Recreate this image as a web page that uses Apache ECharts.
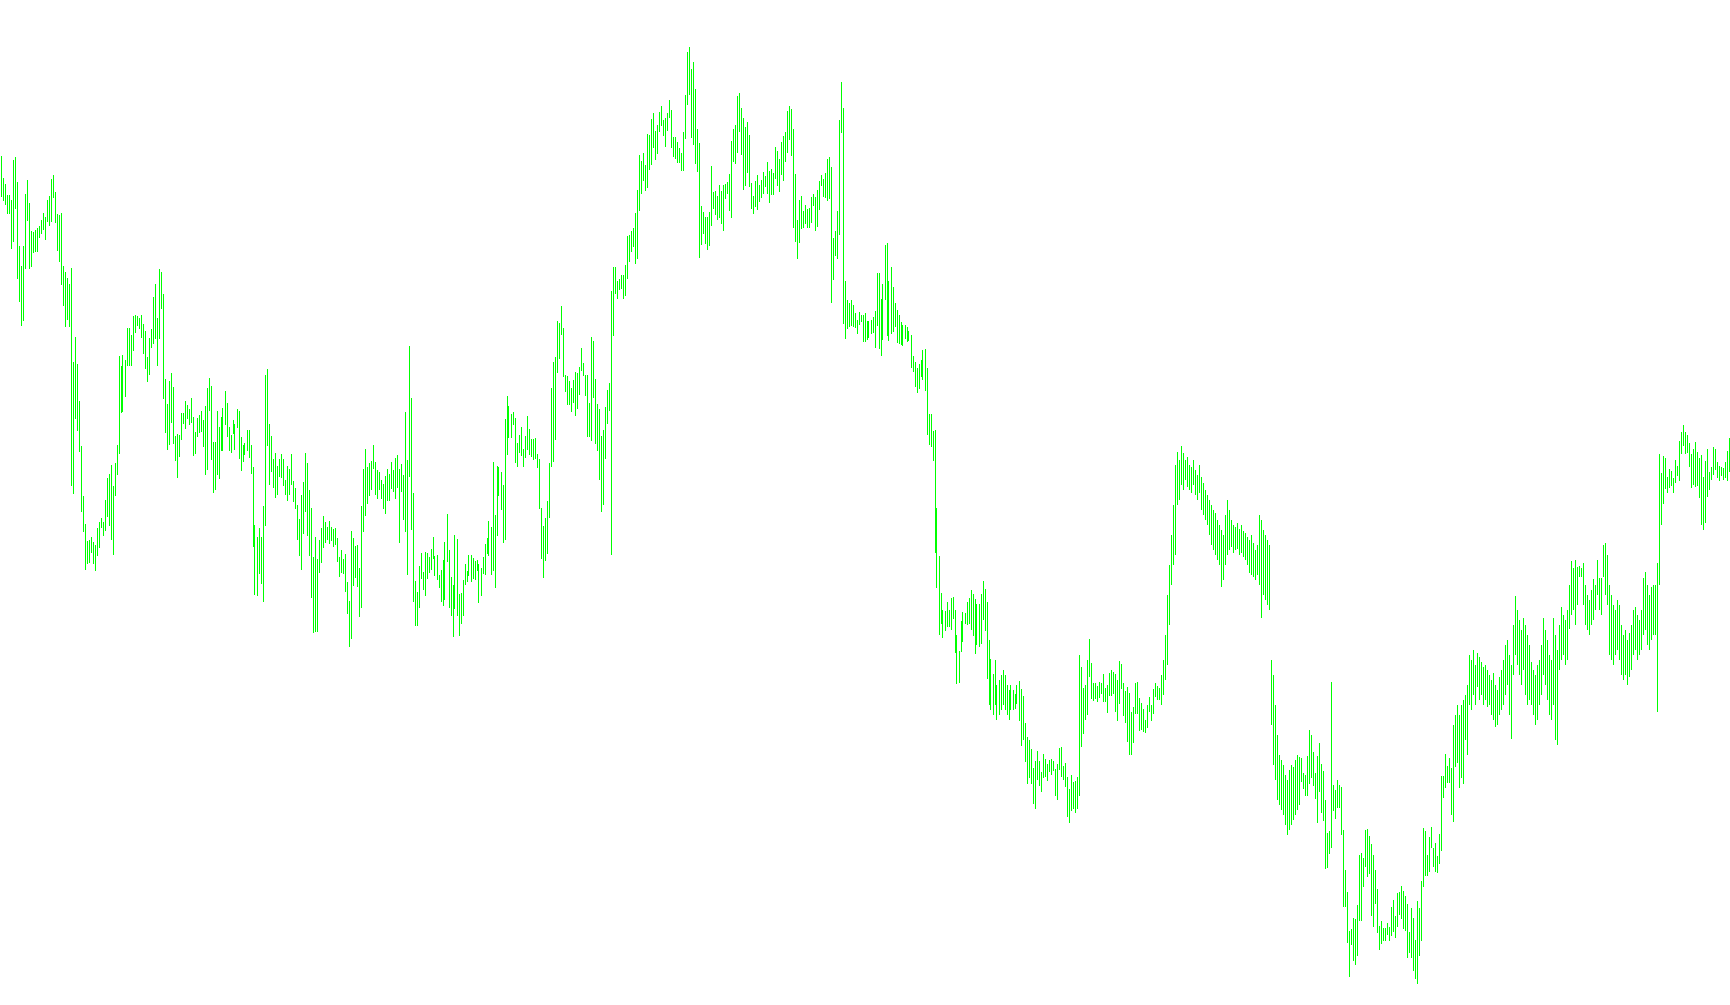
<!DOCTYPE html>
<html><head><meta charset="utf-8">
<script src="https://cdn.jsdelivr.net/npm/echarts/dist/echarts.min.js"></script>
<style>html,body{margin:0;padding:0;background:#ffffff;overflow:hidden}#c{width:1730px;height:1005px}</style>
</head><body><div id="c"></div>
<script>
// Bar highs and lows (arbitrary price units)
const highs = [
849,827,821,810,810,805,845,848,823,759,739,759,811,825,802,774,773,775,777,779,785,792,788,805,809,826,830,813,791,790,792,739,733,727,721,737,643,668,641,604,559,509,481,464,465,468,463,460,477,483,487,483,505,527,531,540,519,542,560,649,639,650,645,677,677,670,689,690,689,687,690,681,
674,648,667,676,708,721,687,736,733,711,626,601,624,632,618,569,571,570,592,592,604,600,596,607,588,573,587,590,594,585,599,617,627,619,563,563,594,578,588,597,614,602,578,570,585,581,596,594,568,560,562,575,575,560,538,480,468,477,468,499,630,636,581,569,546,552,539,546,551,546,525,539,536,
551,524,517,500,486,510,523,552,542,515,497,448,468,446,465,477,489,483,478,484,478,476,477,467,448,455,446,451,423,404,474,467,459,460,437,499,536,556,538,542,544,560,543,535,533,525,521,529,536,531,543,535,547,550,536,541,530,593,545,659,607,512,424,413,439,452,433,453,452,448,456,468,
449,450,430,435,445,463,491,455,428,420,470,466,411,412,425,441,434,450,450,447,444,445,441,437,448,461,467,484,478,543,490,539,538,533,520,586,609,599,591,593,587,562,570,578,556,569,589,576,566,566,567,551,546,497,479,487,504,542,617,643,648,684,682,699,677,630,629,624,617,625,633,632,638,
657,642,630,630,602,668,664,626,601,596,569,575,598,615,622,714,738,738,724,726,730,730,740,769,770,774,777,792,815,850,844,852,840,871,870,886,892,874,880,893,899,885,887,892,905,895,868,868,863,857,852,873,910,953,958,936,943,916,876,862,799,793,788,788,793,839,813,814,809,820,814,820,
821,823,831,864,876,880,909,912,897,887,878,883,870,822,809,824,830,820,825,833,829,843,834,836,832,858,854,846,863,869,873,894,899,896,876,831,785,805,809,794,800,796,797,808,811,808,815,824,830,826,832,846,848,838,767,774,794,885,923,897,724,705,702,705,700,692,685,693,690,690,692,684,684,
685,688,694,732,732,706,721,760,762,724,738,718,702,695,690,683,680,680,678,674,670,649,643,637,641,645,655,656,637,591,591,574,575,497,449,412,395,394,403,395,407,408,395,370,354,384,393,392,403,407,415,411,406,401,401,411,424,416,403,365,346,331,345,320,325,330,335,330,320,315,320,315,
311,320,324,316,309,282,268,265,256,237,244,254,244,233,251,246,241,245,246,244,236,241,257,258,239,242,228,216,230,223,224,228,350,338,317,320,345,366,342,322,322,319,323,322,331,317,320,332,335,333,331,325,344,341,322,314,318,312,293,298,322,323,307,302,296,285,300,308,300,316,322,319,317,
330,345,370,410,440,470,500,540,553,545,559,552,545,548,540,538,545,535,530,540,528,522,515,510,505,500,495,492,485,480,475,470,490,505,495,485,480,478,482,476,480,474,472,468,465,470,462,455,460,490,485,475,470,465,460,345,330,300,270,250,245,240,230,225,235,240,238,245,250,248,
247,232,230,249,275,270,253,232,249,262,241,234,205,172,174,323,220,215,225,220,218,175,135,113,74,76,87,86,100,150,152,147,175,176,169,161,150,135,116,79,84,77,77,82,78,98,105,89,112,113,119,114,109,101,73,97,87,65,104,97,124,177,174,150,168,178,157,162,149,171,229,229,251,239,247,237,280,290,300,290,300,305,310,320,
350,345,355,340,352,348,343,338,340,335,330,325,332,320,315,328,335,345,360,365,350,340,380,409,395,385,375,387,380,370,360,343,335,330,340,345,360,387,375,365,350,345,387,370,355,380,398,390,385,395,420,444,437,445,438,439,437,442,420,410,405,415,426,420,445,427,427,460,462,450,420,410,400,395,405,400,380,370,375,365,372,380,395,398,390,385,395,427,433,420,410,418,420,420,442,
551,532,549,547,528,536,534,527,545,539,564,573,580,573,570,562,551,556,563,553,547,550,528,544,556,533,538,558,556,543,539,538,537,543,554,567
];
const lows = [
808,804,800,791,791,756,763,796,726,703,679,684,736,784,736,738,752,753,753,767,771,775,765,783,779,783,807,782,754,743,720,699,678,685,678,519,511,586,574,553,493,473,435,441,442,452,441,434,449,457,477,469,474,488,479,465,450,509,530,551,592,593,608,639,639,639,654,672,679,676,667,651,
636,623,630,657,661,666,639,666,696,606,572,555,560,582,561,544,527,548,565,581,576,586,580,582,549,551,568,572,573,558,530,535,594,545,512,515,530,526,554,554,580,568,554,552,571,555,577,546,534,543,550,554,547,531,458,410,409,431,421,403,479,559,520,533,517,507,510,528,527,519,510,504,510,
520,503,496,465,449,435,471,493,469,449,407,372,373,373,432,442,457,462,465,461,464,458,460,443,428,432,431,413,391,358,366,419,427,418,388,397,473,489,501,509,515,536,510,506,515,506,496,491,504,504,516,513,506,517,462,513,485,473,430,528,475,403,379,379,397,426,415,409,426,432,435,446,
429,425,417,403,399,405,443,397,389,368,396,389,369,381,389,420,423,429,423,426,425,434,402,409,431,430,451,449,430,434,417,469,509,495,462,465,550,567,567,580,542,538,552,549,538,547,555,550,548,545,546,537,496,446,427,444,451,487,538,543,565,632,646,670,628,613,600,600,593,602,589,596,610,
634,629,609,568,568,564,607,561,554,525,493,500,546,581,594,450,669,711,706,715,716,706,709,726,743,753,758,741,746,794,811,824,814,817,835,840,857,845,851,873,879,869,858,874,887,857,848,846,842,842,834,834,866,900,910,867,860,841,833,747,760,771,761,755,759,779,796,790,785,787,781,774,
806,811,794,787,843,841,852,873,850,815,819,832,818,796,791,798,795,803,807,811,818,811,802,810,810,826,819,813,830,824,843,852,865,849,777,763,746,762,776,777,781,777,777,782,799,774,778,795,819,808,807,804,806,702,725,749,746,770,872,681,666,676,678,679,678,677,671,680,683,663,663,665,667,
671,672,657,679,656,649,665,705,669,664,671,673,678,662,661,660,659,666,663,664,637,633,618,612,616,628,625,614,570,560,558,544,452,417,370,381,367,374,378,378,375,386,352,321,322,353,363,381,380,381,375,369,351,360,358,361,385,374,326,300,295,290,300,285,290,295,300,295,290,285,295,295,
296,301,284,259,265,243,221,227,221,201,196,225,219,213,227,228,224,233,230,234,209,205,235,228,225,218,188,182,194,196,192,196,209,258,271,285,290,328,306,304,306,303,307,311,303,303,292,309,309,311,293,284,301,316,289,282,263,250,250,262,291,291,274,275,273,272,277,293,284,291,308,305,305,
300,310,325,340,380,420,440,450,500,505,520,515,525,518,515,512,520,510,505,512,495,490,485,480,470,460,455,450,445,440,418,425,440,450,455,458,452,455,456,450,452,448,445,440,432,430,428,425,430,420,387,410,405,400,395,280,240,225,205,200,195,190,180,170,175,180,185,190,195,200,
223,216,209,209,221,227,219,206,182,213,192,184,136,137,151,157,194,186,197,197,170,98,98,62,28,60,44,40,49,84,84,118,138,128,131,89,78,101,72,55,61,64,64,70,64,69,73,67,78,90,86,76,74,47,52,47,34,26,21,49,64,118,129,129,133,157,138,133,132,141,154,207,217,222,222,190,183,238,242,217,227,221,265,250,
300,295,310,300,318,305,310,300,305,298,300,290,285,278,280,290,295,300,310,320,290,266,330,350,340,330,320,335,310,300,305,300,290,280,285,300,310,330,320,305,290,285,300,265,260,335,345,350,340,345,376,390,395,380,400,428,428,400,380,375,370,380,385,395,410,395,390,428,410,400,350,345,340,350,355,345,330,325,330,320,328,335,350,355,345,350,355,370,375,360,355,365,370,370,293,
420,480,501,516,512,517,519,512,522,529,524,551,559,551,552,538,517,520,518,519,507,480,475,482,508,515,525,530,535,527,524,529,525,527,524,533
];
const TOTAL_BARS = 865;
const categories = Array.from({length: TOTAL_BARS}, (_, i) => String(i + 1));

const chart = echarts.init(document.getElementById('c'), null, {renderer: 'canvas'});
const data = highs.map((h, i) => [i, h, lows[i]]);
chart.setOption({
  animation: false,
  backgroundColor: '#ffffff',
  grid: {left: 0, right: 0, top: 0, bottom: 0},
  xAxis: {type: 'category', data: categories, show: false, boundaryGap: true},
  yAxis: {type: 'value', min: 0, max: 1005, show: false},
  series: [{
    type: 'custom',
    encode: {x: 0, y: [1, 2]},
    data: data,
    renderItem: function (params, api) {
      const top = api.coord([api.value(0), api.value(1)]);
      const bot = api.coord([api.value(0), api.value(2)]);
      const x = Math.floor(top[0]) + 0.5;
      return {
        type: 'line',
        shape: {x1: x, y1: top[1], x2: x, y2: bot[1]},
        style: {stroke: '#00ff00', lineWidth: 1}
      };
    }
  }]
});
</script>
</body></html>
